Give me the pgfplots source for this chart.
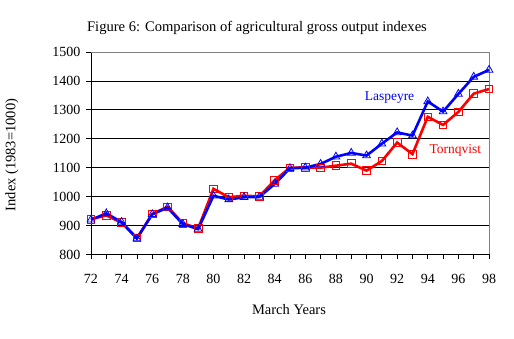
\documentclass[border=0pt]{standalone}
\usepackage{fontspec}
\setmainfont{Liberation Serif}
\usepackage{pgfplots}
\pgfplotsset{compat=1.18}
\begin{document}
\begin{tikzpicture}[x=1pt,y=1pt]
\path[use as bounding box] (-91,-84.5) rectangle (423,254.5);
\begin{axis}[
  at={(0,0)}, anchor=south west, scale only axis,
  width=398pt, height=202.5pt,
  xmin=72, xmax=98, ymin=800, ymax=1500,
  axis lines=left, axis line style={-, black, line width=0.8pt},
  xtick={72,74,...,98}, minor xtick={73,75,...,97},
  ytick={800,900,...,1500},
  tick align=outside, major tick length=5pt, minor tick length=5pt,
  tick style={black, line width=0.8pt},
  ymajorgrids, grid style={black, line width=0.8pt},
  /pgf/number format/assume math mode=true,
  /pgf/number format/1000 sep={},
  tick label style={font=\fontsize{14}{16}\selectfont},
  yticklabel style={xshift=-2pt},
  xticklabel style={yshift=-11pt},
  clip=false,
]
\draw[gray, line width=0.8pt] (axis cs:72,1500) -- (axis cs:98,1500) -- (axis cs:98,800);
\addplot[red, line width=2.6pt, mark=square, mark size=3.8pt,
  mark options={solid, fill=none, line width=0.8pt}] coordinates {
(72,922) (73,935) (74,910) (75,857) (76,940) (77,965) (78,908) (79,890)
(80,1027) (81,998) (82,1003) (83,1001) (84,1057) (85,1100) (86,1101)
(87,1100) (88,1107) (89,1114) (90,1090) (91,1123) (92,1187) (93,1147)
(94,1276) (95,1248) (96,1293) (97,1356) (98,1372)
};
\addplot[blue, line width=2.6pt, mark=triangle, mark size=4.5pt,
  mark options={solid, fill=none, line width=0.8pt}] coordinates {
(72,920) (73,942) (74,912) (75,855) (76,939) (77,962) (78,905) (79,888)
(80,1003) (81,990) (82,998) (83,999) (84,1044) (85,1098) (86,1100)
(87,1113) (88,1138) (89,1151) (90,1142) (91,1183) (92,1222) (93,1211)
(94,1329) (95,1294) (96,1355) (97,1414) (98,1438)
};
\node[blue, font=\fontsize{13.5}{15}\selectfont] at (axis cs:91.5,1341) {Laspeyre};
\node[red, font=\fontsize{13.5}{15}\selectfont] at (axis cs:95.8,1161) {Tornqvist};
\end{axis}
\node[font=\fontsize{14.6}{16}\selectfont] at (166,227) {Figure 6: Comparison of agricultural gross output indexes};
\node[font=\fontsize{14.5}{16}\selectfont, rotate=90] at (-79,99.5) {Index (1983=1000)};
\node[font=\fontsize{14.5}{16}\selectfont] at (198,-55.5) {March Years};
\end{tikzpicture}
\end{document}
